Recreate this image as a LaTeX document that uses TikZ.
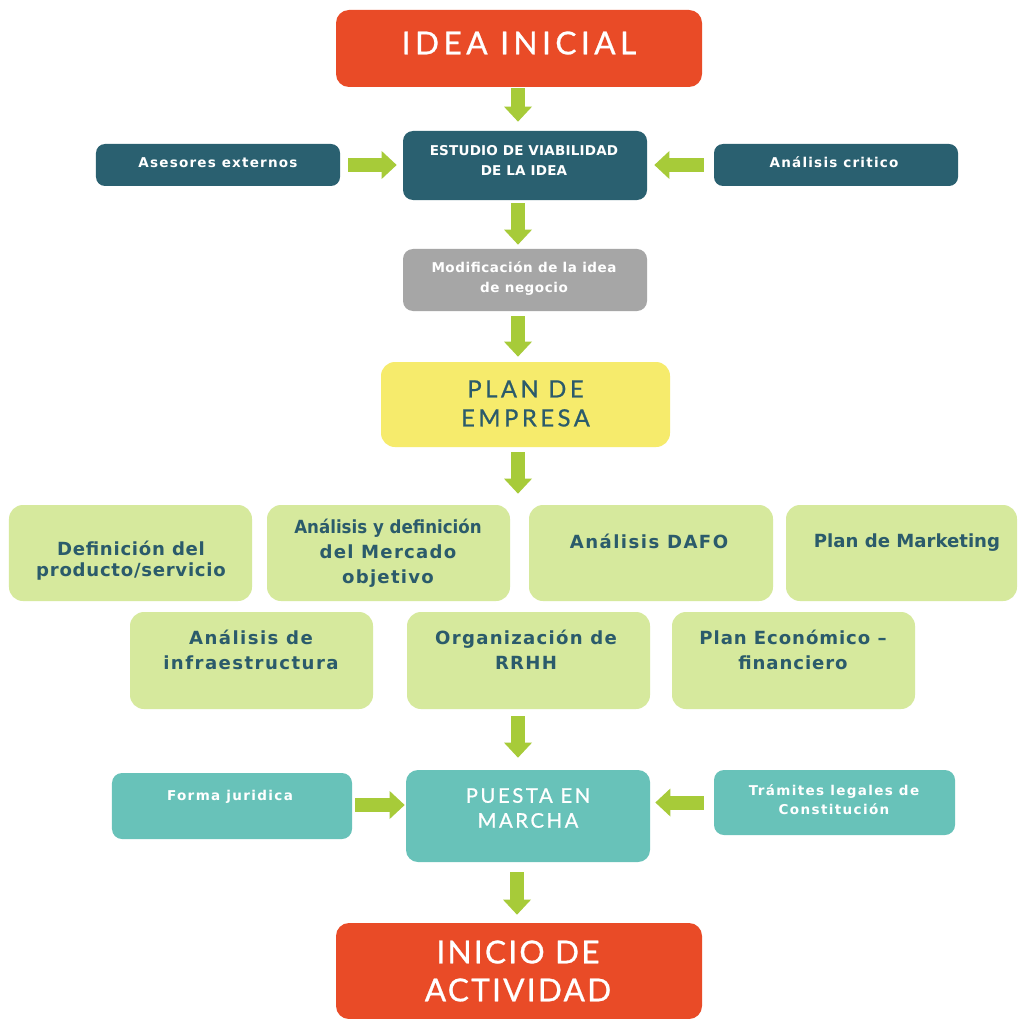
\documentclass[tikz,border=0pt]{standalone}
\usepackage{fontspec}
\setmainfont{Lato}
\newfontfamily\ttlfont[FakeBold=0.8]{Lato}
\newfontfamily\smfont{DejaVu Sans}
\newfontfamily\smcond[FakeStretch=0.92]{DejaVu Sans}
\usetikzlibrary{arrows.meta}
\definecolor{cOrange}{HTML}{E94B27}
\definecolor{cDteal}{HTML}{2A6070}
\definecolor{cGray}{HTML}{A6A6A6}
\definecolor{cYellow}{HTML}{F6EB6C}
\definecolor{cLgreen}{HTML}{D6E99D}
\definecolor{cTeal}{HTML}{68C2B9}
\definecolor{cArrow}{HTML}{A7CB39}
\definecolor{cTxt}{HTML}{2B5B6B}
\newcommand{\lsp}[1]{\addfontfeatures{LetterSpace=#1}}
\begin{document}
\begin{tikzpicture}[x=0.2mm,y=-0.2mm,
  box/.style={rectangle, rounded corners=2.4mm, inner sep=0pt, draw=none},
  sbox/.style={box, rounded corners=1.8mm},
  ttl/.style={inner sep=0pt, align=center, text=white},
  wsm/.style={inner sep=0pt, align=center, text=white},
  gtx/.style={inner sep=0pt, align=center, text=cTxt},
  garrow/.style={draw=cArrow, line width=2.8mm, -{Triangle[width=5.6mm,length=3mm,line width=0pt,fill=cArrow]}}
]
\useasboundingbox (0,0) rectangle (1017,1019);
\fill[white] (0,0) rectangle (1017,1019);
\coordinate (ax) at (518,0);
\coordinate (bx) at (517,0);
% boxes
\node[box, fill=cOrange, rounded corners=2.6mm, minimum width=73.2mm, minimum height=15.4mm] (idea) at (519,48.5) {};
\node[box, fill=cDteal, rounded corners=2mm, minimum width=48.8mm, minimum height=13.8mm] (estudio) at (525,165.5) {};
\node[sbox, fill=cDteal, minimum width=48.8mm, minimum height=8.4mm] (asesores) at (218,165) {};
\node[sbox, fill=cDteal, minimum width=48.8mm, minimum height=8.4mm] (critico) at (836,165) {};
\node[box, fill=cGray, rounded corners=2mm, minimum width=48.8mm, minimum height=12.4mm] (modif) at (525,280) {};
\node[box, fill=cYellow, rounded corners=2.8mm, minimum width=57.8mm, minimum height=17mm] (plan) at (525.5,404.5) {};
\node[box, fill=cLgreen, rounded corners=2.8mm, minimum width=48.6mm, minimum height=19.2mm] (g1) at (130.5,553) {};
\node[box, fill=cLgreen, rounded corners=2.8mm, minimum width=48.6mm, minimum height=19.2mm] (g2) at (388.5,553) {};
\node[box, fill=cLgreen, rounded corners=2.8mm, minimum width=48.8mm, minimum height=19.2mm] (g3) at (651,553) {};
\node[box, fill=cLgreen, rounded corners=2.8mm, minimum width=46.2mm, minimum height=19.2mm] (g4) at (901.5,553) {};
\node[box, fill=cLgreen, rounded corners=2.8mm, minimum width=48.6mm, minimum height=19.4mm] (g5) at (251.5,660.5) {};
\node[box, fill=cLgreen, rounded corners=2.8mm, minimum width=48.6mm, minimum height=19.4mm] (g6) at (528.5,660.5) {};
\node[box, fill=cLgreen, rounded corners=2.8mm, minimum width=48.6mm, minimum height=19.4mm] (g7) at (793.5,660.5) {};
\node[box, fill=cTeal, rounded corners=2mm, minimum width=48mm, minimum height=13.2mm] (forma) at (232,806) {};
\node[box, fill=cTeal, rounded corners=2.4mm, minimum width=48.8mm, minimum height=18.4mm] (puesta) at (528,816) {};
\node[box, fill=cTeal, rounded corners=2mm, minimum width=48.2mm, minimum height=13mm] (tramites) at (834.5,802.5) {};
\node[box, fill=cOrange, rounded corners=2.6mm, minimum width=73.2mm, minimum height=19.2mm] (inicio) at (519,971) {};
% texts
\node[ttl, font=\ttlfont\fontsize{18}{21.6}\selectfont\lsp{14}] (idea-t) at (519,43) {IDEA INICIAL};
\node[wsm, font=\smfont\bfseries\fontsize{7.7}{11.4}\selectfont\lsp{1.5}] (estudio-t) at (524,160) {ESTUDIO DE VIABILIDAD\\DE LA IDEA};
\node[wsm, font=\smfont\bfseries\fontsize{7.7}{11.4}\selectfont\lsp{9}] (asesores-t) at (218,163) {Asesores externos};
\node[wsm, font=\smfont\bfseries\fontsize{7.7}{11.4}\selectfont\lsp{9}] (critico-t) at (834,162) {Análisis critico};
\node[wsm, font=\smfont\bfseries\fontsize{7.7}{11.4}\selectfont\lsp{4}] (modif-t) at (524,279) {Modificación de la idea\\de negocio};
\node[ttl, text=cTxt, font=\ttlfont\fontsize{13.5}{16.5}\selectfont\lsp{15}] (plan-t) at (525.5,403.5) {PLAN DE\\EMPRESA};
\node[gtx, font=\smfont\bfseries\fontsize{10.3}{12}\selectfont\lsp{4}] (g1-t) at (131,561) {Definición del\\producto/servicio};
\node[gtx, font=\smfont\bfseries\fontsize{10.3}{14.2}\selectfont\lsp{7}] (g2-t) at (388,553) {{\smcond\bfseries Análisis y definición}\\del Mercado\\objetivo};
\node[gtx, font=\smfont\bfseries\fontsize{10.3}{14.2}\selectfont\lsp{8}] (g3-t) at (649,541) {Análisis DAFO};
\node[gtx, font=\smfont\bfseries\fontsize{10.3}{14.2}\selectfont] (g4-t) at (907,543) {Plan de Marketing};
\node[gtx, font=\smfont\bfseries\fontsize{10.3}{14.2}\selectfont\lsp{8}] (g5-t) at (251,650) {Análisis de\\infraestructura};
\node[gtx, font=\smfont\bfseries\fontsize{10.3}{14.2}\selectfont\lsp{7}] (g6-t) at (526,650) {Organización de\\RRHH};
\node[gtx, font=\smfont\bfseries\fontsize{10.3}{14.2}\selectfont\lsp{5}] (g7-t) at (793,650) {Plan Económico –\\financiero};
\node[wsm, font=\smfont\bfseries\fontsize{7.7}{10.8}\selectfont\lsp{10}] (forma-t) at (230,797) {Forma juridica};
\node[ttl, font=\ttlfont\fontsize{11.5}{14.2}\selectfont\lsp{13}] (puesta-t) at (528,808) {PUESTA EN\\MARCHA};
\node[wsm, font=\smfont\bfseries\fontsize{7.7}{10.8}\selectfont\lsp{10}] (tramites-t) at (834,800) {Trámites legales de\\Constitución};
\node[ttl, font=\ttlfont\fontsize{18}{21.6}\selectfont\lsp{7}] (inicio-t) at (518,971) {INICIO DE\\ACTIVIDAD};
% arrows
\draw[garrow, shorten <=0.2mm, shorten >=1.8mm] (idea.south -| ax) -- (estudio.north -| ax);
\draw[garrow, shorten <=1.6mm, shorten >=1.2mm] (asesores.east) -- (asesores.east -| estudio.west);
\draw[garrow, shorten <=2mm, shorten >=1.4mm] (critico.west) -- (critico.west -| estudio.east);
\draw[garrow, shorten <=0.6mm, shorten >=0.8mm] (estudio.south -| ax) -- (modif.north -| ax);
\draw[garrow, shorten <=1mm, shorten >=1mm] (modif.south -| ax) -- (plan.north -| ax);
\draw[garrow, shorten <=1mm, shorten >=2.2mm] (plan.south -| ax) -- (g3.north -| ax);
\draw[garrow, shorten <=1.4mm, shorten >=2.4mm] (g6.south -| ax) -- (puesta.north -| ax);
\draw[garrow, shorten <=0.6mm, shorten >=0.2mm] (forma.east |- 0,805) -- (puesta.west |- 0,805);
\draw[garrow, shorten <=2mm, shorten >=1mm] (tramites.west) -- (tramites.west -| puesta.east);
\draw[garrow, shorten <=2mm, shorten >=1.6mm] (puesta.south -| bx) -- (inicio.north -| bx);
\end{tikzpicture}
\end{document}
